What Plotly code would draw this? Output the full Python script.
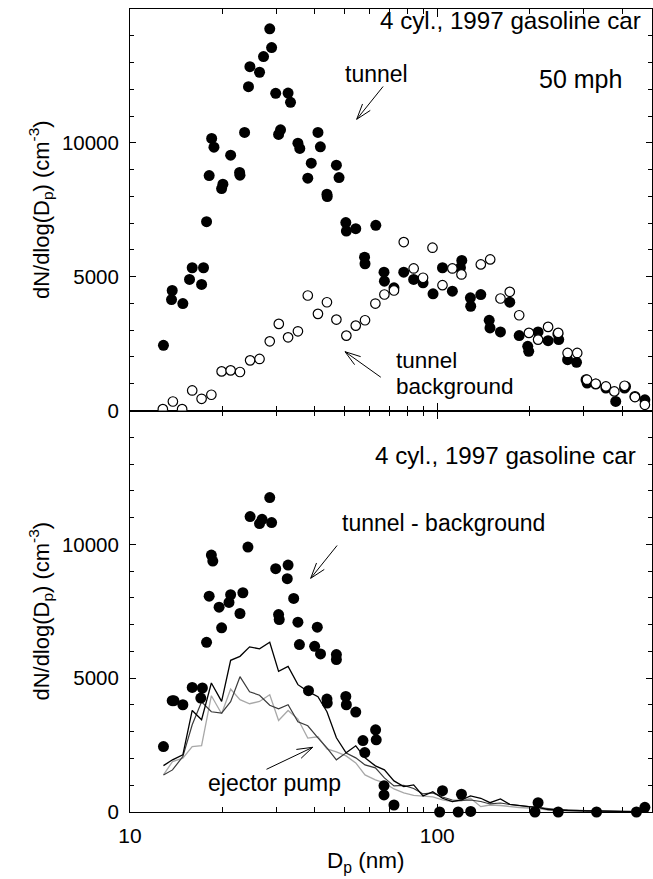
import math
import plotly.graph_objects as go

# ---------------- data ----------------
# top panel: tunnel (filled circles)
tun_d = [12.85, 13.72, 13.65, 14.86, 15.62, 15.94, 17.1, 17.35, 17.75, 18.1, 18.44, 18.76, 19.87, 20.06,
         21.26, 22.74, 22.8, 23.6, 24.3, 24.56, 26.4, 27.2, 28.5, 28.9, 29.8, 30.45, 30.9, 32.7, 33.3,
         35.2, 35.7, 37.9, 38.9, 40.9, 41.65, 43.75, 43.85, 46.96, 47.9, 50.4, 50.6, 54.3, 58.0, 58.2,
         63.1, 67.1, 67.3, 72.3, 77.8, 83.8, 89.9, 96.9, 104, 112, 119, 120.2, 128.2, 128.5, 138.6,
         147.6, 148.5, 160.6, 172.2, 184.8, 197, 198.5, 212.9, 229.5, 247, 248.5, 265.6, 284, 305,
         307.5, 328, 354, 381, 407, 410, 440, 474]
tun_n = [2435, 4483, 4146, 3996, 4895, 5333, 4708, 5333, 7056, 8779, 10165, 9839, 8292, 8453,
         9539, 8892, 8790, 10389, 12097, 12846, 12637, 13221, 14259, 13558, 11850, 10315, 10487, 11861, 11513,
         9989, 9790, 8678, 9240, 10390, 9850, 8079, 7993, 9165, 8704, 7019, 6704, 6794, 5730, 5483,
         6918, 5169, 4831, 4584, 5169, 4895, 4771, 4359, 5333, 4457, 5333, 5607, 4210, 3895, 4333,
         3371, 3086, 2936, 4045, 2798, 2397, 2210, 2936, 2610, 2861, 2648, 1899, 1798, 1150,
         1026, 989, 839, 337, 839, 899, 524, 400]

# top panel: tunnel background (open circles)
bg_d = [12.79, 13.79, 14.78, 15.94, 17.1, 18.4, 19.87, 21.26, 22.8, 24.6, 26.4, 28.5, 30.5, 32.7, 35.2,
        37.9, 40.9, 43.75, 46.96, 50.6, 54.3, 58.2, 62.9, 67.3, 72.3, 77.8, 83.8, 89.9, 96.5, 104,
        112, 119.9, 138.6, 148.7, 160.6, 172.2, 184.8, 198.8, 212.9, 229.5, 247.6, 265.6, 285.5, 307,
        328, 354, 377, 407, 440, 474]
bg_n = [52, 337, 52, 749, 438, 588, 1461, 1498, 1438, 1873, 1925, 2584, 3236, 2734, 2959,
        4296, 3611, 4045, 3397, 2798, 3172, 3371, 3996, 4333, 4483, 6292, 5307, 4959, 6082, 4682,
        5307, 5082, 5457, 5644, 4184, 4434, 3558, 2899, 2648, 3124, 2899, 2150, 2150, 1150,
        1000, 899, 712, 925, 502, 213]

# bottom panel: tunnel - background (filled circles)
diff_d = [12.85, 13.72, 13.9, 14.86, 15.94, 17.0, 17.2, 17.75, 18.1, 18.4, 18.6, 19.5, 19.87, 21.0, 21.26,
          22.8, 23.3, 24.2, 24.6, 26.4, 26.9, 28.5, 28.9, 29.8, 30.45, 30.6, 32.5, 32.7, 34.1, 35.2,
          35.6, 38.1, 39.9, 40.7, 41.7, 43.75, 43.85, 46.96, 46.96, 50.4, 50.6, 54.3, 57.3, 58.1, 63,
          63.3, 67.1, 67.1, 72.3, 101.8, 104, 117, 119.9, 128.5, 208, 212.9, 247.6, 330, 445, 474]
diff_n = [2446, 4157, 4157, 4007, 4655, 4258, 4633, 6341, 8064, 9600, 9375, 7652, 6880, 7828, 8116,
          7416, 8191, 9899, 11037, 10775, 10936, 11749, 10812, 9090, 7378, 7191, 8715, 9225, 7978, 7090,
          6255, 4532, 6191, 6903, 5906, 4221, 4071, 5880, 5693, 4318, 4007, 3734, 2670, 2221, 3071,
          2697, 985, 637, 262, 0, 798, 0, 663, 20, 0, 348, 0, 0, 0, 176]

# bottom panel: ejector pump measurements (lines)
ch_d = [12.85, 13.75, 14.86, 15.94, 17.1, 18.4, 19.87, 21.26, 22.8, 24.5, 26.4, 28.5, 30.45, 32.7, 35.2,
        37.9, 40.9, 43.75, 46.96, 50.5, 54.3, 58.2, 62.9, 67.3, 72.3, 77.8, 83.8, 89.9, 96.7, 104,
        112, 119.9, 128.3, 138.6, 148.5, 160.6, 172.2, 184.8, 197.8, 212.9, 229.5, 247.6, 265.6, 285,
        307, 328, 354, 378, 407, 440, 474]
ej_black = [1734, 1950, 2135, 3794, 3446, 4820, 4131, 5667, 5816, 6169, 6094, 6341, 5255, 5442, 4757,
            4506, 4307, 3745, 2772, 2210, 2472, 2022, 1723, 1573, 1161, 948, 1011, 599, 760, 513,
            386, 449, 599, 513, 348, 487, 288, 236, 199, 169, 94, 75, 56, 49, 37, 37, 26, 37, 19, 19, 11]
ej_dark = [1386, 1573, 2071, 3258, 4120, 3745, 3697, 4120, 5056, 4494, 4363, 3989, 3858, 4007, 3371,
           3221, 2772, 2397, 1948, 2210, 2022, 1760, 1648, 1273, 974, 993, 880, 674, 712, 562,
           449, 431, 449, 393, 300, 337, 281, 243, 206, 169, 112, 94, 75, 64, 56, 37, 37, 26, 19, 19, 0]
ej_light = [1386, 1884, 2011, 2446, 2483, 4345, 3670, 4596, 4195, 4045, 4131, 4382, 3420, 3794, 3472,
            2760, 2809, 2360, 2247, 2097, 1835, 1386, 1199, 1086, 861, 712, 618, 581, 562, 449,
            386, 412, 513, 199, 262, 243, 199, 169, 150, 131, 75, 49, 37, 30, 30, 20, 20, 15, 10, 10, 5]

x_major = [10, 100]
x_major_text = ["10", "100"]
x_minor = [20, 30, 40, 50, 60, 70, 80, 90, 200, 300, 400, 500]
y_major = [0, 5000, 10000]
y_major_text = ["0", "5000", "10000"]

# ---------------- figure ----------------
W, H = 653, 879
ML, MR, MT, MB = 130, 1, 9, 67
FONT = "Liberation Sans, Arial, sans-serif"

fig = go.Figure()

# bottom panel
fig.add_trace(go.Scatter(x=ch_d, y=ej_light, mode="lines", line=dict(color="#a8a8a8", width=1.3),
                         xaxis="x", yaxis="y", showlegend=False))
fig.add_trace(go.Scatter(x=ch_d, y=ej_dark, mode="lines", line=dict(color="#3a3a3a", width=1.2),
                         xaxis="x", yaxis="y", showlegend=False))
fig.add_trace(go.Scatter(x=ch_d, y=ej_black, mode="lines", line=dict(color="black", width=1.3),
                         xaxis="x", yaxis="y", showlegend=False))
fig.add_trace(go.Scatter(x=diff_d, y=diff_n, mode="markers",
                         marker=dict(symbol="circle", size=11, color="black"),
                         xaxis="x", yaxis="y", showlegend=False, cliponaxis=False))

# top panel
fig.add_trace(go.Scatter(x=tun_d, y=tun_n, mode="markers",
                         marker=dict(symbol="circle", size=11, color="black"),
                         xaxis="x2", yaxis="y2", showlegend=False))
fig.add_trace(go.Scatter(x=bg_d, y=bg_n, mode="markers",
                         marker=dict(symbol="circle", size=9.5, color="white",
                                     line=dict(color="black", width=1.2)),
                         xaxis="x2", yaxis="y2", showlegend=False))

xcommon = dict(type="log", range=[1, math.log10(500)], tickmode="array", tickvals=x_major,
               ticktext=x_major_text, ticks="inside", ticklen=8, tickwidth=1, tickcolor="black",
               showline=True, linecolor="black", linewidth=1, mirror="ticks", showgrid=False,
               zeroline=False, tickfont=dict(family=FONT, size=21, color="black"),
               ticklabelstandoff=5,
               minor=dict(tickmode="array", tickvals=x_minor, ticks="inside", ticklen=5,
                          tickcolor="black", tickwidth=1, showgrid=False))
ycommon = dict(range=[0, 15000], tickmode="array", tickvals=y_major, ticktext=y_major_text,
               ticks="inside", ticklen=6, tickwidth=1, tickcolor="black", showline=True,
               linecolor="black", linewidth=1, mirror="ticks", showgrid=False, zeroline=False,
               tickfont=dict(family=FONT, size=20.5, color="black"), ticklabelstandoff=6,
               minor=dict(dtick=1000, tick0=0, ticks="inside", ticklen=4, tickcolor="black",
                          tickwidth=1, showgrid=False),
               title=dict(text="dN/dlog(D<sub>p</sub>) (cm<sup>-3</sup>)",
                          font=dict(family=FONT, size=22, color="black"), standoff=6))

fig.update_layout(
    width=W, height=H, margin=dict(l=ML, r=MR, t=MT, b=MB),
    paper_bgcolor="white", plot_bgcolor="white",
    font=dict(family=FONT, color="black"),
    xaxis=dict(xcommon, anchor="y", domain=[0, 1]),
    xaxis2=dict(xcommon, anchor="y2", domain=[0, 1], matches="x", showticklabels=False),
    yaxis=dict(ycommon, anchor="x", domain=[0, 0.5]),
    yaxis2=dict(ycommon, anchor="x2", domain=[0.5, 1]),
)

# ---------------- annotations ----------------
PW = W - ML - MR
PH = H - MT - MB


def px(x, y):
    return (x - ML) / PW, (H - MB - y) / PH


annotations = []


def label(text, x, y, xanchor, size=23):
    u, v = px(x, y)
    annotations.append(dict(text=text, x=u, y=v, xref="paper", yref="paper", xanchor=xanchor,
                            yanchor="middle", showarrow=False,
                            font=dict(family=FONT, size=size, color="black")))


def arrow(tip, tail, arm=18, ang=18):
    u, v = px(*tip)
    dx, dy = tail[0] - tip[0], tail[1] - tip[1]
    annotations.append(dict(text="", x=u, y=v, xref="paper", yref="paper", ax=dx, ay=dy,
                            showarrow=True, arrowhead=0, arrowwidth=1, arrowcolor="black"))
    L = math.hypot(dx, dy)
    ux, uy = dx / L, dy / L
    for s in (-1, 1):
        a = math.radians(ang * s)
        rx = ux * math.cos(a) - uy * math.sin(a)
        ry = ux * math.sin(a) + uy * math.cos(a)
        annotations.append(dict(text="", x=u, y=v, xref="paper", yref="paper", ax=rx * arm,
                                ay=ry * arm, showarrow=True, arrowhead=0, arrowwidth=1,
                                arrowcolor="black"))


# top panel texts
label("4 cyl., 1997 gasoline car", 643, 21, "right", 24.2)
label("tunnel", 376.7, 74, "center")
label("50 mph", 580, 79, "center", 25)
label("tunnel", 394, 360, "left", 22.5)
label("background", 394, 386, "left", 22.5)
arrow((356.7, 119.3), (384.3, 85))
arrow((345, 351.7), (382.3, 378.3))

# bottom panel texts
label("4 cyl., 1997 gasoline car", 638, 455, "right", 24.2)
label("tunnel - background", 340, 523, "left")
label("ejector pump", 206, 783, "left")
arrow((310.7, 578.3), (338.3, 544))
arrow((312.7, 747.3), (265, 770))

# x axis title
u, v = px(366, 862)
annotations.append(dict(text="D<sub>p</sub> (nm)", x=u, y=v, xref="paper", yref="paper",
                        xanchor="center", yanchor="middle", showarrow=False,
                        font=dict(family=FONT, size=22.5, color="black")))

fig.update_layout(annotations=annotations)

fig.write_html("out.html")
